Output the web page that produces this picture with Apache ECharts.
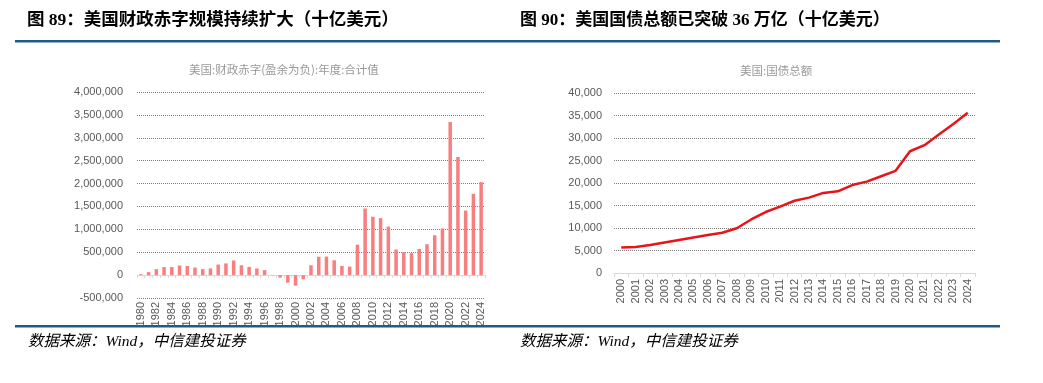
<!DOCTYPE html>
<html>
<head>
<meta charset="utf-8">
<script src="https://cdn.jsdelivr.net/npm/echarts@6/dist/echarts.min.js"></script>
<style>
html,body{margin:0;padding:0;background:#fff;}
#c{width:1043px;height:383px;}
</style>
</head>
<body>
<div id="c"></div>
<script>
var deficitYears = [];
for (var y = 1980; y <= 2024; y++) deficitYears.push(String(y));
var deficitValues = [20000, 65000, 130000, 175000, 175000, 210000, 200000, 165000, 130000, 145000,
  230000, 255000, 320000, 215000, 180000, 145000, 110000, 5000, -55000, -165000,
  -230000, -90000, 215000, 400000, 405000, 325000, 200000, 185000, 665000, 1455000,
  1275000, 1245000, 1060000, 560000, 500000, 480000, 570000, 675000, 870000, 1020000,
  3345000, 2580000, 1410000, 1775000, 2030000];
var debtYears = [];
for (var y2 = 2000; y2 <= 2024; y2++) debtYears.push(String(y2));
var debtValues = [5660, 5800, 6200, 6800, 7350, 7900, 8450, 8950, 9950, 11900,
  13550, 14750, 16050, 16750, 17800, 18150, 19550, 20300, 21500, 22700,
  27050, 28400, 30800, 33100, 35600];
var leftTicks = { min: -500000, max: 4000000, interval: 500000 };
var rightTicks = { min: 0, max: 40000, interval: 5000 };

var chart = echarts.init(document.getElementById('c'), null, { renderer: 'canvas' });
var fmt = function (v) { return Number(v).toLocaleString('en-US'); };
var labelFont = 'Liberation Sans, Arial, sans-serif';
var titleFont = 'Liberation Serif, "Noto Sans CJK SC", serif';
var splitStyle = { type: [1, 1], color: '#7f7f7f', width: 1 };

chart.setOption({
  animation: false,
  graphic: [
    { type: 'text', left: 27, top: 12, style: { text: '图 89：美国财政赤字规模持续扩大（十亿美元）', font: 'bold 17.5px ' + titleFont, fill: '#000' } },
    { type: 'text', left: 520, top: 12, style: { text: '图 90：美国国债总额已突破 36 万亿（十亿美元）', font: 'bold 17px ' + titleFont, fill: '#000' } },
    { type: 'rect', shape: { x: 15, y: 40, width: 985, height: 2.5 }, style: { fill: '#1f5a8a' } },
    { type: 'rect', shape: { x: 15, y: 325, width: 985, height: 2.5 }, style: { fill: '#1f5a8a' } },
    { type: 'text', left: 28, top: 334, style: { text: '数据来源：Wind，中信建投证券', font: 'italic 15.5px ' + titleFont, fill: '#000' } },
    { type: 'text', left: 520, top: 334, style: { text: '数据来源：Wind，中信建投证券', font: 'italic 15.5px ' + titleFont, fill: '#000' } },
    { type: 'text', left: 189, top: 64, style: { text: '美国:财政赤字(盈余为负):年度:合计值', font: '11.5px "Noto Sans CJK SC", serif', fill: '#999' } },
    { type: 'text', left: 740, top: 65, style: { text: '美国:国债总额', font: '11.5px "Noto Sans CJK SC", serif', fill: '#999' } }
  ],
  grid: [
    { left: 137, right: 558, top: 92, bottom: 85 },
    { left: 614, right: 68, top: 93, bottom: 110 }
  ],
  xAxis: [
    {
      type: 'category', gridIndex: 0, data: deficitYears,
      axisLine: { onZero: true, lineStyle: { color: '#d9d9d9' } },
      axisTick: { show: true, length: 3, lineStyle: { color: '#d9d9d9' }, interval: 0 },
      axisLabel: { rotate: 90, interval: 1, fontSize: 11, color: '#595959', fontFamily: labelFont, margin: 4 }
    },
    {
      type: 'category', gridIndex: 1, data: debtYears,
      axisLine: { lineStyle: { color: '#d9d9d9' } },
      axisTick: { show: true, length: 4, lineStyle: { color: '#d9d9d9' } },
      axisLabel: { rotate: 90, interval: 0, fontSize: 11, color: '#595959', fontFamily: labelFont, margin: 6 }
    }
  ],
  yAxis: [
    {
      type: 'value', gridIndex: 0, min: leftTicks.min, max: leftTicks.max, interval: leftTicks.interval,
      axisLine: { show: false }, axisTick: { show: false },
      splitLine: { lineStyle: splitStyle },
      axisLabel: { formatter: fmt, fontSize: 11, color: '#595959', fontFamily: labelFont, margin: 14 }
    },
    {
      type: 'value', gridIndex: 1, min: rightTicks.min, max: rightTicks.max, interval: rightTicks.interval,
      axisLine: { show: false }, axisTick: { show: false },
      splitLine: { lineStyle: splitStyle },
      axisLabel: { formatter: fmt, fontSize: 11, color: '#595959', fontFamily: labelFont, margin: 12 }
    }
  ],
  series: [
    { type: 'bar', xAxisIndex: 0, yAxisIndex: 0, data: deficitValues, barWidth: 3.5, itemStyle: { color: '#f77f7f' } },
    { type: 'line', xAxisIndex: 1, yAxisIndex: 1, data: debtValues, symbol: 'none', lineStyle: { color: '#e8141a', width: 2.5 } }
  ]
});
</script>
</body>
</html>
